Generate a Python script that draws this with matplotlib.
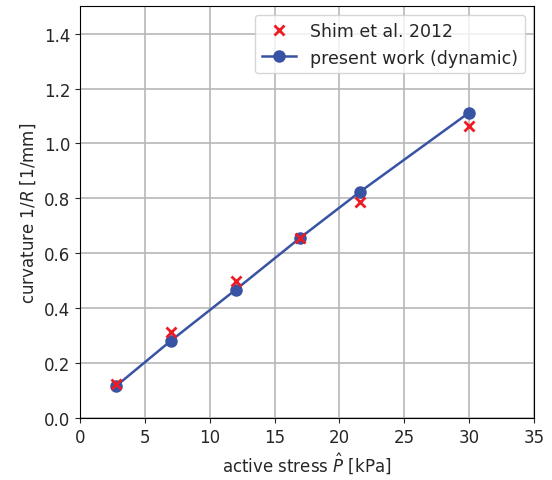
import numpy as np
import matplotlib
matplotlib.use("Agg")
import matplotlib.pyplot as plt

# active stress [kPa]
stress = [2.8, 7.0, 12.0, 17.0, 21.6, 30.0]
# curvature 1/R [1/mm]
shim_2012 = [0.124, 0.314, 0.500, 0.655, 0.787, 1.063]
present_dyn = [0.117, 0.281, 0.467, 0.657, 0.824, 1.112]

plt.rcParams["text.color"] = "#262626"
plt.rcParams["axes.labelcolor"] = "#262626"
plt.rcParams["xtick.color"] = "#262626"
plt.rcParams["ytick.color"] = "#262626"

fig, ax = plt.subplots(figsize=(5.52, 4.81), dpi=100)
ax.plot(stress, shim_2012, "x", color="#ed1c24", markersize=7.5, markeredgewidth=2,
        label="Shim et al. 2012", zorder=3)
ax.plot(stress, present_dyn, "-o", color="#3953a4", markersize=8, linewidth=1.8,
        label="present work (dynamic)", zorder=2)

ax.set_xlim(0, 35)
ax.set_ylim(0, 1.5)
ax.set_xticks(np.arange(0, 36, 5))
ax.set_yticks(np.arange(0, 1.41, 0.2))
ax.grid(True, color="#b8b8b8", linewidth=1.2)
ax.set_axisbelow(True)
ax.tick_params(labelsize=12)
ax.set_xlabel(r"active stress $\hat{P}$ [kPa]", fontsize=12)
ax.set_ylabel(r"curvature 1/$R$ [1/mm]", fontsize=12)
ax.legend(loc="upper right", fontsize=12.5)

fig.subplots_adjust(left=0.145, right=0.967, top=0.985, bottom=0.129)
fig.savefig("out.png")
